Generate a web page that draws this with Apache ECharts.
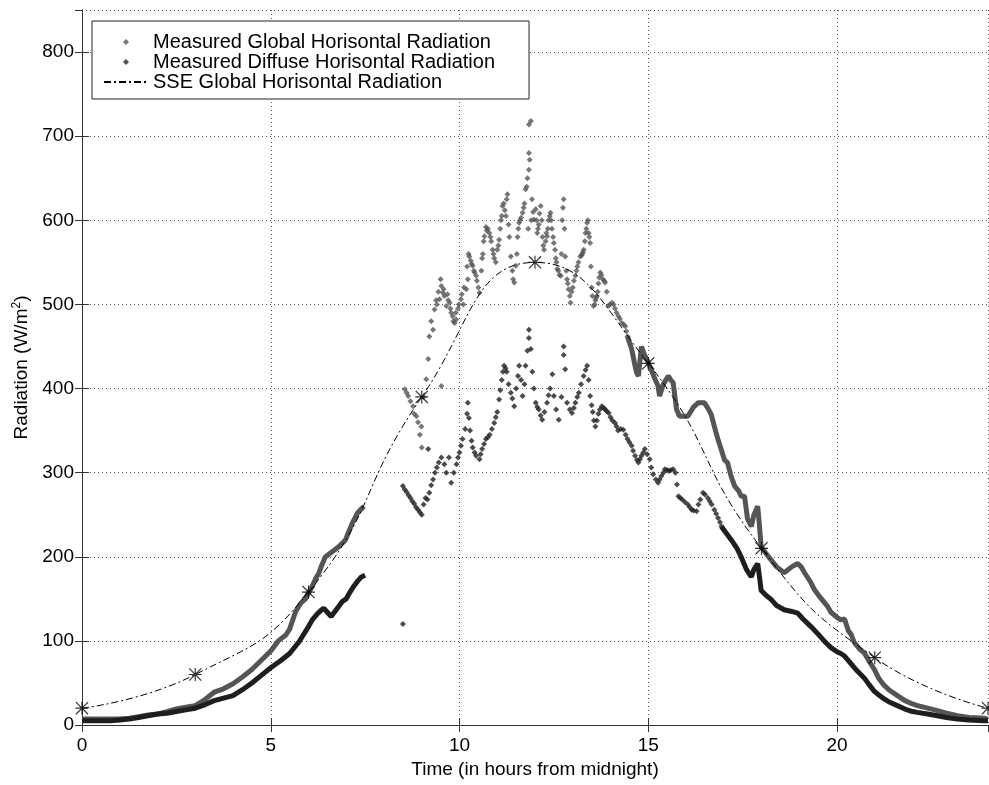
<!DOCTYPE html>
<html>
<head>
<meta charset="utf-8">
<title>Radiation</title>
<script src="https://cdn.jsdelivr.net/npm/echarts@6/dist/echarts.min.js"></script>
<style>
  html, body { margin: 0; padding: 0; background: #fff; }
  #chart { width: 989px; height: 785px; }
</style>
</head>
<body>
<div id="chart"></div>
<script>
// [hour, W/m2]
const globalMorning = [
  [0, 7], [0.25, 7], [0.5, 7], [0.75, 7], [1, 7], [1.25, 8], [1.5, 10], [1.75, 12], [2, 13],
  [2.25, 16], [2.5, 19], [2.75, 21], [3, 23], [3.25, 30], [3.5, 39], [3.75, 43], [4, 49],
  [4.25, 57], [4.5, 66], [4.75, 77], [5, 88], [5.2, 100], [5.4, 107], [5.5, 114], [5.66, 135],
  [5.8, 145], [5.92, 150], [6, 157], [6.1, 165], [6.2, 175], [6.27, 180], [6.35, 190],
  [6.45, 200], [6.6, 205], [6.8, 212], [6.98, 220], [7.05, 228], [7.16, 240], [7.3, 252],
  [7.4, 257], [7.47, 260]
];
const globalMidday = [
  [8.55, 399], [8.6, 395], [8.64, 391], [8.7, 385], [8.77, 379], [8.8, 370], [8.86, 367],
  [8.9, 360], [8.95, 345], [8.99, 355], [9, 330], [9.05, 390], [9.12, 411], [9.17, 435],
  [9.2, 462], [9.25, 480], [9.3, 470], [9.34, 494], [9.38, 505], [9.4, 500], [9.44, 515],
  [9.47, 506], [9.5, 530], [9.52, 522], [9.52, 403], [9.56, 514], [9.58, 518], [9.6, 510],
  [9.65, 498], [9.68, 512], [9.7, 505], [9.74, 502], [9.76, 495], [9.78, 490], [9.82, 486],
  [9.84, 480], [9.87, 478], [9.9, 490], [9.91, 482], [9.96, 495], [9.98, 500], [10.04, 506],
  [10.06, 512], [10.1, 500], [10.12, 520], [10.18, 518], [10.2, 545], [10.22, 530], [10.24, 560],
  [10.26, 557], [10.3, 552], [10.32, 548], [10.35, 546], [10.38, 540], [10.4, 538], [10.44, 534],
  [10.46, 528], [10.5, 520], [10.53, 514], [10.58, 540], [10.6, 555], [10.62, 560], [10.64, 575],
  [10.66, 581], [10.7, 592], [10.72, 588], [10.75, 590], [10.79, 585], [10.82, 580], [10.84, 575],
  [10.88, 565], [10.9, 560], [10.92, 555], [10.96, 550], [11, 565], [11.03, 570], [11.05, 577],
  [11.08, 590], [11.1, 600], [11.12, 605], [11.14, 617], [11.17, 620], [11.2, 612], [11.23, 605],
  [11.25, 625], [11.27, 631], [11.3, 595], [11.32, 580], [11.36, 557], [11.4, 540], [11.42, 530],
  [11.45, 526], [11.49, 546], [11.52, 560], [11.54, 580], [11.56, 590], [11.58, 597], [11.6, 600],
  [11.63, 603], [11.67, 609], [11.7, 615], [11.72, 620], [11.75, 637], [11.78, 640], [11.8, 650],
  [11.82, 590], [11.84, 660], [11.84, 680], [11.86, 672], [11.84, 714], [11.89, 718], [11.9, 600],
  [11.92, 625], [11.95, 610], [11.97, 601], [12.02, 613], [12.04, 600], [12.06, 585], [12.08, 590],
  [12.1, 595], [12.12, 608], [12.15, 617], [12.18, 600], [12.2, 580], [12.22, 570], [12.24, 565],
  [12.28, 575], [12.3, 585], [12.32, 581], [12.34, 590], [12.36, 600], [12.39, 605], [12.41, 609],
  [12.43, 600], [12.45, 590], [12.48, 580], [12.5, 573], [12.53, 565], [12.55, 555], [12.57, 550],
  [12.59, 542], [12.62, 540], [12.65, 535], [12.68, 534], [12.7, 560], [12.72, 600], [12.74, 615],
  [12.76, 625], [12.78, 590], [12.8, 557], [12.83, 540], [12.85, 530], [12.87, 525], [12.89, 518],
  [12.92, 510], [12.94, 502], [12.97, 515], [13, 520], [13.03, 528], [13.07, 534], [13.1, 540],
  [13.12, 545], [13.15, 550], [13.2, 557], [13.23, 558], [13.25, 560], [13.27, 562], [13.29, 565],
  [13.32, 575], [13.34, 585], [13.36, 590], [13.38, 597], [13.4, 600], [13.42, 585], [13.44, 580],
  [13.46, 573], [13.48, 545], [13.5, 520], [13.52, 510], [13.55, 498], [13.58, 500], [13.6, 505],
  [13.62, 508], [13.64, 510], [13.66, 515], [13.68, 525], [13.7, 532], [13.73, 538], [13.76, 535],
  [13.8, 530], [13.83, 528], [13.86, 526], [13.9, 515], [13.94, 498], [13.98, 500], [14.04, 502],
  [14.08, 500], [14.12, 495], [14.16, 490], [14.21, 486], [14.25, 483], [14.3, 478], [14.35, 476],
  [14.39, 474], [14.42, 468], [14.45, 462]
];
const globalEvening = [
  [14.45, 462], [14.5, 455], [14.56, 447], [14.65, 427], [14.69, 419], [14.74, 415], [14.82, 450],
  [14.9, 440], [15, 431], [15.1, 420], [15.18, 411], [15.26, 403], [15.3, 391], [15.4, 405],
  [15.53, 415], [15.6, 410], [15.66, 407], [15.75, 375], [15.83, 367], [15.97, 367], [16.05, 367],
  [16.2, 378], [16.32, 383], [16.41, 383], [16.49, 383], [16.6, 375], [16.67, 369], [16.75, 355],
  [16.85, 339], [16.93, 328], [17.02, 315], [17.1, 312], [17.2, 295], [17.29, 284], [17.4, 278],
  [17.46, 272], [17.55, 272], [17.63, 245], [17.73, 236], [17.8, 250], [17.9, 260], [17.95, 235],
  [17.99, 212], [18.1, 205], [18.26, 196], [18.4, 188], [18.6, 181], [18.8, 188], [18.96, 192],
  [19.05, 188], [19.14, 181], [19.3, 170], [19.4, 161], [19.55, 152], [19.75, 141], [19.84, 134],
  [20, 128], [20.1, 125], [20.2, 126], [20.3, 112], [20.37, 108], [20.46, 98], [20.6, 90],
  [20.72, 86], [20.85, 76], [20.99, 66], [21.1, 56], [21.25, 47], [21.4, 41], [21.6, 35],
  [21.8, 29], [22, 25], [22.13, 23], [22.4, 20], [22.66, 17], [22.9, 14], [23.19, 11],
  [23.5, 9], [23.9, 8], [24, 7]
];

const diffuseMorning = [
  [0, 5], [0.25, 5], [0.5, 5], [0.75, 5], [1, 6], [1.25, 7], [1.5, 9], [1.75, 11], [2, 13],
  [2.25, 14], [2.5, 16], [2.75, 18], [3, 20], [3.25, 24], [3.5, 29], [3.75, 32], [4, 35],
  [4.25, 42], [4.5, 50], [4.75, 59], [5, 68], [5.25, 76], [5.5, 85], [5.75, 99], [6, 117],
  [6.1, 125], [6.25, 133], [6.4, 139], [6.5, 134], [6.6, 129], [6.75, 138], [6.9, 147],
  [7, 150], [7.1, 158], [7.2, 165], [7.3, 171], [7.4, 176], [7.5, 178]
];
const diffuseOutlier = [[8.5, 120], [9.17, 328]];
const diffuseMidday = [
  [8.5, 284], [8.55, 280], [8.6, 277], [8.65, 273], [8.7, 270], [8.75, 266], [8.8, 263],
  [8.85, 259], [8.9, 256], [8.95, 253], [9, 250], [9.05, 262], [9.1, 270], [9.15, 268],
  [9.2, 276], [9.25, 285], [9.3, 292], [9.35, 300], [9.4, 306], [9.45, 312], [9.52, 318],
  [9.6, 310], [9.65, 300], [9.72, 318], [9.78, 288], [9.85, 300], [9.92, 310], [9.96, 318],
  [10, 324], [10.04, 332], [10.08, 340], [10.15, 352], [10.2, 370], [10.22, 383], [10.25, 365],
  [10.28, 350], [10.32, 338], [10.35, 330], [10.4, 324], [10.44, 320], [10.53, 316], [10.56, 322],
  [10.6, 328], [10.65, 334], [10.7, 340], [10.75, 342], [10.8, 345], [10.86, 352], [10.92, 359],
  [10.96, 366], [11, 372], [11.05, 387], [11.08, 398], [11.12, 410], [11.15, 420], [11.18, 427],
  [11.22, 424], [11.25, 420], [11.3, 405], [11.36, 395], [11.4, 388], [11.45, 379], [11.5, 400],
  [11.55, 415], [11.58, 427], [11.63, 410], [11.67, 391], [11.72, 405], [11.75, 427], [11.8, 445],
  [11.84, 470], [11.84, 460], [11.89, 447], [11.93, 420], [11.97, 400], [12.02, 383], [12.06, 378],
  [12.1, 375], [12.15, 368], [12.19, 363], [12.25, 372], [12.32, 383], [12.36, 392], [12.4, 400],
  [12.46, 417], [12.5, 391], [12.56, 375], [12.63, 363], [12.7, 390], [12.76, 450], [12.76, 440],
  [12.8, 423], [12.85, 383], [12.92, 375], [12.98, 371], [13.03, 377], [13.07, 383], [13.12, 390],
  [13.16, 395], [13.22, 405], [13.29, 415], [13.34, 422], [13.38, 427], [13.42, 410], [13.46, 391],
  [13.5, 380], [13.53, 372], [13.56, 362], [13.6, 355], [13.64, 362], [13.68, 370], [13.72, 375],
  [13.77, 379], [13.82, 377], [13.86, 375], [13.9, 373], [13.95, 371], [14, 366], [14.05, 362],
  [14.12, 359], [14.16, 355], [14.2, 350], [14.27, 352], [14.34, 351], [14.4, 345], [14.45, 340],
  [14.5, 336], [14.56, 332], [14.6, 326], [14.65, 320], [14.7, 315], [14.74, 312], [14.78, 316],
  [14.82, 320], [14.87, 324], [14.91, 328], [14.97, 322], [15.04, 316], [15.08, 306], [15.13, 298],
  [15.2, 292], [15.26, 288], [15.3, 292], [15.35, 296], [15.4, 300], [15.44, 304], [15.5, 303],
  [15.55, 302], [15.6, 303], [15.66, 304], [15.72, 300], [15.76, 286], [15.8, 272], [15.85, 270],
  [15.9, 268], [15.97, 265], [16.05, 262], [16.1, 259], [16.15, 256], [16.2, 255], [16.28, 254],
  [16.33, 262], [16.38, 268], [16.45, 276], [16.5, 274], [16.58, 270], [16.63, 266], [16.68, 262],
  [16.75, 256], [16.8, 251], [16.85, 246], [16.9, 241], [16.94, 236]
];
const diffuseEvening = [
  [16.94, 236], [17, 232], [17.2, 220], [17.35, 210], [17.46, 200], [17.6, 185], [17.73, 176],
  [17.8, 185], [17.9, 192], [17.95, 175], [17.99, 160], [18.1, 155], [18.26, 149], [18.4, 142],
  [18.6, 137], [18.8, 135], [18.96, 133], [19.1, 126], [19.31, 117], [19.5, 108], [19.7, 98],
  [19.84, 92], [20, 87], [20.1, 85], [20.2, 82], [20.37, 73], [20.5, 66], [20.72, 56],
  [20.85, 48], [20.99, 40], [21.1, 36], [21.25, 31], [21.4, 27], [21.6, 23], [21.8, 19],
  [22, 16], [22.13, 15], [22.4, 13], [22.66, 11], [22.9, 9], [23.19, 7], [23.5, 6], [23.9, 5], [24, 5]
];

const sseHours = [0, 3, 6, 9, 12, 15, 18, 21, 24];
const sseValues = [20, 60, 158, 390, 550, 430, 210, 80, 20];

const xTicks = [0, 5, 10, 15, 20];
const yTicks = [0, 100, 200, 300, 400, 500, 600, 700, 800];

const NAME_G = 'Measured Global Horisontal Radiation';
const NAME_D = 'Measured Diffuse Horisontal Radiation';
const NAME_S = 'SSE Global Horisontal Radiation';

const FONT = "'Liberation Sans', Arial, Helvetica, sans-serif";
const GRAY = '#555555';
const DARK = '#1e1e1e';
const STAR = 'path://M0,4.55L10,4.55L10,5.45L0,5.45Z M4.55,0L5.45,0L5.45,10L4.55,10Z M0.65,0L10,9.35L9.35,10L0,0.65Z M9.35,0L10,0.65L0.65,10L0,9.35Z';
const DIAMOND = 'path://M5,0L10,5L5,10L0,5Z';

const sseData = sseHours.map((h, i) => [h, sseValues[i]]);

const chart = echarts.init(document.getElementById('chart'));

const axisLine = { show: true, lineStyle: { color: '#333', width: 1 } };
const tickIn = { show: true, inside: true, length: 7, lineStyle: { color: '#333' } };

chart.setOption({
  animation: false,
  textStyle: { fontFamily: FONT },
  grid: { left: 82, right: 1, top: 10, bottom: 60, show: false },
  legend: {
    data: [
      NAME_G,
      NAME_D,
      // line icon only, no marker in the middle
      { name: NAME_S, itemStyle: { opacity: 0, color: 'rgba(0,0,0,0)', borderWidth: 0 } }
    ],
    orient: 'vertical',
    left: 92,
    top: 21,
    itemWidth: 44,
    itemHeight: 6,
    itemGap: 0,
    symbolKeepAspect: true,
    padding: [11, 34, 7, 11],
    backgroundColor: '#fff',
    borderColor: '#222',
    borderWidth: 1,
    borderRadius: 0,
    textStyle: { fontFamily: FONT, fontSize: 20, lineHeight: 20, color: '#000' },
    selectedMode: false
  },
  xAxis: [
    {
      type: 'value', min: 0, max: 24, interval: 5,
      axisLine: axisLine, axisTick: tickIn,
      axisLabel: { show: true, showMaxLabel: false, fontSize: 19, color: '#000', margin: 11, fontFamily: FONT },
      splitLine: { show: true, lineStyle: { color: GRAY, type: [1, 3], width: 1 } },
      name: 'Time (in hours from midnight)', nameLocation: 'middle', nameGap: 34,
      nameTextStyle: { fontSize: 19, color: '#000', fontFamily: FONT }
    },
    {
      type: 'value', min: 0, max: 24, interval: 5, position: 'top',
      axisLine: axisLine, axisTick: tickIn, axisLabel: { show: false }, splitLine: { show: false }
    }
  ],
  yAxis: [
    {
      type: 'value', min: 0, max: 850, interval: 100,
      axisLine: axisLine, axisTick: tickIn,
      axisLabel: { show: true, showMaxLabel: false, fontSize: 19, color: '#000', margin: 8, fontFamily: FONT },
      splitLine: { show: true, lineStyle: { color: GRAY, type: [1, 3], width: 1 } },
      name: 'Radiation (W/m{sup|2})', nameLocation: 'middle', nameGap: 46,
      nameTextStyle: {
        fontSize: 19, color: '#000', fontFamily: FONT,
        rich: { sup: { fontSize: 12, verticalAlign: 'top', padding: [0, 0, 10, 0], fontFamily: FONT } }
      }
    },
    {
      type: 'value', min: 0, max: 850, interval: 100, position: 'right',
      axisLine: axisLine, axisTick: tickIn, axisLabel: { show: false }, splitLine: { show: false }
    }
  ],
  series: [
    {
      name: NAME_G, type: 'scatter', data: globalMidday,
      symbol: DIAMOND, symbolSize: 6, itemStyle: { color: GRAY }, z: 2
    },
    {
      name: NAME_G, type: 'line', data: globalMorning, symbol: 'none',
      lineStyle: { color: GRAY, width: 5 }, itemStyle: { color: GRAY }, z: 2
    },
    {
      name: NAME_G, type: 'line', data: globalEvening, symbol: 'none',
      lineStyle: { color: GRAY, width: 5 }, itemStyle: { color: GRAY }, z: 2
    },
    {
      name: NAME_D, type: 'scatter', data: diffuseMidday.concat(diffuseOutlier),
      symbol: DIAMOND, symbolSize: 6, itemStyle: { color: DARK }, z: 3
    },
    {
      name: NAME_D, type: 'line', data: diffuseMorning, symbol: 'none',
      lineStyle: { color: DARK, width: 5 }, itemStyle: { color: DARK }, z: 3
    },
    {
      name: NAME_D, type: 'line', data: diffuseEvening, symbol: 'none',
      lineStyle: { color: DARK, width: 5 }, itemStyle: { color: DARK }, z: 3
    },
    {
      name: NAME_S, type: 'line', data: sseData, symbol: 'none', smooth: true,
      lineStyle: { color: '#000', width: 1, type: [7, 3, 2, 3] }, itemStyle: { color: '#000' }, z: 4
    },
    {
      name: 'SSE points', type: 'scatter', data: sseData, symbol: STAR, symbolSize: 13,
      itemStyle: { color: '#000' }, z: 5
    }
  ]
});
</script>
</body>
</html>
